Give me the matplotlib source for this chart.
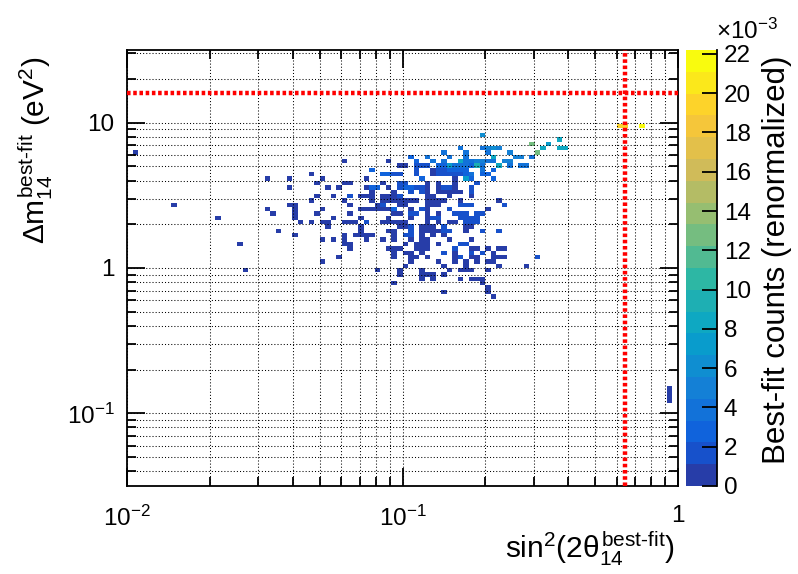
import numpy as np
import matplotlib
matplotlib.use('Agg')
import matplotlib.pyplot as plt
from matplotlib.colors import LinearSegmentedColormap, ListedColormap, BoundaryNorm
from matplotlib.ticker import NullFormatter

plt.rcParams['font.family'] = 'Liberation Sans'
plt.rcParams['mathtext.fontset'] = 'custom'
plt.rcParams['mathtext.rm'] = 'Liberation Sans'
plt.rcParams['mathtext.it'] = 'Liberation Sans'
plt.rcParams['mathtext.bf'] = 'Liberation Sans:bold'

#%% DATA
# 100 x 100 log bins, sin2 in [1e-2, 1], dm2 in [10^-1.5, 10^1.5]
n_bins = 100
sin2_range = (-2.0, 0.0)
dm2_range = (-1.5, 1.5)

# dm2 bin index of each filled row, sin2 bin indices and contents (x1e-3) in that row
dm2_rows = [82, 80, 79, 78, 77, 76, 75, 74, 73, 72, 71, 70, 69, 68, 67, 66, 65, 64, 63, 62,
            61, 60, 59, 58, 57, 56, 55, 54, 53, 52, 51, 50, 49, 48, 47, 46, 45, 44, 43,
            22, 21, 20, 19]
sin2_cols = [
    [89, 90, 93],
    [64],
    [78],
    [73, 76],
    [60, 64, 65, 66, 67, 75, 78, 79],
    [1, 57, 61, 65, 69, 74],
    [51, 54, 58, 61, 66, 70, 71, 73],
    [39, 47, 52, 55, 57, 60, 61, 62, 63, 64, 65, 66, 68, 69],
    [49, 50, 52, 53, 54, 56, 57, 58, 59, 60, 61, 62, 63, 64, 67, 69, 71, 72],
    [44, 52, 55, 56, 57, 58, 59, 60, 61, 64, 66],
    [33, 46, 47, 48, 49, 52, 55, 56, 57, 58, 59, 60, 61, 62, 64, 65],
    [25, 29, 35, 43, 53, 59, 61, 62, 66],
    [34, 39, 40, 46, 49, 50, 54, 56, 59, 63],
    [29, 36, 38, 43, 44, 45, 47, 49, 50, 51, 52, 53, 54, 56, 57, 58, 59, 62],
    [44, 48, 51, 53, 54, 56, 57, 58, 59, 60, 62],
    [34, 37, 40, 42, 43, 44, 46, 47, 48, 49, 54, 55, 58, 62],
    [33, 39, 44, 46, 47, 48, 49, 50, 51, 52, 54, 55, 56, 57, 60, 67],
    [8, 29, 30, 40, 45, 46, 49, 50, 54, 55, 56, 60, 61, 62, 68],
    [25, 30, 35, 42, 43, 44, 45, 46, 47, 48, 51, 53, 54, 58, 65],
    [26, 30, 34, 40, 48, 49, 51, 52, 54, 56, 59, 60, 61, 63, 64],
    [16, 30, 37, 42, 47, 51, 54, 55, 56, 60, 61, 62, 63],
    [31, 33, 35, 36, 39, 40, 41, 43, 46, 47, 48, 49, 50, 54, 56, 58, 59, 61, 62, 63],
    [36, 42, 49, 50, 51, 53, 54, 55, 57, 61, 62],
    [27, 42, 47, 48, 51, 53, 54, 55, 56, 57, 58, 61, 64, 67],
    [30, 39, 41, 42, 43, 44, 48, 50, 51, 53, 55, 57],
    [35, 37, 39, 43, 46, 48, 51, 53, 54, 58, 62],
    [20, 39, 40, 50, 52, 53, 54, 56, 60, 61],
    [40, 47, 48, 49, 52, 53, 54, 59, 62, 63, 65, 67, 68],
    [48, 50, 51, 53, 57, 59, 62, 64, 66],
    [38, 48, 51, 52, 54, 59, 60, 62, 63, 66, 67, 68, 74],
    [35, 51, 56, 59, 61, 63, 65, 66],
    [50, 57, 61, 67, 72],
    [21, 45, 49, 53, 58, 60, 61, 62, 65],
    [49, 53, 54, 55, 57],
    [53, 55, 60, 62, 63, 64],
    [48, 64],
    [65],
    [57, 65],
    [66],
    [98], [98], [98], [98],
]
contents = [
    [19.3, 19.3, 21.5],
    [6.0],
    [8.3],
    [12.7, 7.2],
    [3.8, 3.8, 4.9, 6.0, 4.9, 8.3, 8.3, 8.3],
    [0.5, 3.8, 3.8, 3.8, 4.9, 12.7],
    [2.7, 3.8, 3.8, 3.8, 8.3, 4.9, 4.9, 3.8],
    [0.5, 0.5, 2.7, 3.8, 3.8, 8.3, 3.8, 3.8, 4.9, 4.9, 3.8, 3.8, 4.9, 4.9],
    [0.5, 0.5, 1.6, 1.6, 1.6, 2.7, 2.7, 7.2, 3.8, 3.8, 3.8, 2.7, 9.4, 3.8, 8.3, 3.8, 3.8, 3.8],
    [2.7, 1.6, 0.5, 1.6, 1.6, 2.7, 2.7, 2.7, 2.7, 3.8, 2.7],
    [0.5, 2.7, 2.7, 1.6, 1.6, 1.6, 0.5, 1.6, 1.6, 1.6, 1.6, 1.6, 2.7, 3.8, 2.7, 2.7],
    [0.5, 0.5, 0.5, 0.5, 2.7, 0.5, 7.2, 2.7, 2.7],
    [0.5, 0.5, 0.5, 0.5, 1.6, 1.6, 0.5, 0.5, 0.5, 1.6],
    [0.5, 0.5, 0.5, 0.5, 2.7, 2.7, 0.5, 1.6, 2.7, 2.7, 1.6, 1.6, 0.5, 0.5, 1.6, 1.6, 0.5, 1.6],
    [0.5, 0.5, 1.6, 1.6, 0.5, 0.5, 0.5, 0.5, 0.5, 0.5, 1.6],
    [0.5, 0.5, 1.6, 0.5, 0.5, 0.5, 0.5, 0.5, 0.5, 1.6, 0.5, 0.5, 0.5, 0.5],
    [0.5, 0.5, 0.5, 0.5, 0.5, 0.5, 0.5, 0.5, 0.5, 0.5, 0.5, 0.5, 0.5, 0.5, 0.5, 0.5],
    [0.5, 0.5, 0.5, 0.5, 0.5, 1.6, 0.5, 0.5, 0.5, 0.5, 0.5, 1.6, 1.6, 1.6, 1.6],
    [0.5, 0.5, 0.5, 0.5, 0.5, 0.5, 0.5, 0.5, 0.5, 2.7, 0.5, 1.6, 0.5, 1.6, 0.5],
    [0.5, 0.5, 0.5, 0.5, 0.5, 0.5, 1.6, 1.6, 0.5, 0.5, 1.6, 1.6, 1.6, 1.6, 1.6],
    [0.5, 0.5, 0.5, 0.5, 0.5, 0.5, 0.5, 1.6, 1.6, 1.6, 1.6, 1.6, 1.6],
    [0.5, 0.5, 0.5, 0.5, 0.5, 0.5, 0.5, 1.6, 0.5, 0.5, 0.5, 0.5, 0.5, 0.5, 0.5, 0.5, 0.5, 1.6, 1.6, 1.6],
    [0.5, 0.5, 0.5, 0.5, 1.6, 0.5, 0.5, 0.5, 1.6, 0.5, 0.5],
    [0.5, 0.5, 0.5, 0.5, 1.6, 0.5, 0.5, 0.5, 0.5, 1.6, 1.6, 0.5, 1.6, 1.6],
    [0.5, 0.5, 0.5, 0.5, 0.5, 0.5, 0.5, 1.6, 1.6, 0.5, 0.5, 0.5],
    [0.5, 0.5, 0.5, 0.5, 0.5, 0.5, 0.5, 0.5, 0.5, 0.5, 0.5],
    [0.5, 0.5, 0.5, 0.5, 0.5, 0.5, 0.5, 0.5, 1.6, 1.6],
    [0.5, 0.5, 0.5, 0.5, 0.5, 0.5, 0.5, 1.6, 0.5, 0.5, 0.5, 0.5, 0.5],
    [0.5, 0.5, 0.5, 0.5, 1.6, 0.5, 1.6, 1.6, 0.5],
    [0.5, 0.5, 0.5, 0.5, 0.5, 0.5, 1.6, 0.5, 0.5, 0.5, 0.5, 0.5, 1.6],
    [0.5, 0.5, 0.5, 0.5, 0.5, 0.5, 0.5, 0.5],
    [0.5, 0.5, 0.5, 0.5, 0.5],
    [0.5, 0.5, 0.5, 0.5, 0.5, 0.5, 0.5, 0.5, 0.5],
    [0.5, 0.5, 0.5, 0.5, 0.5],
    [0.5, 0.5, 0.5, 0.5, 0.5, 0.5],
    [0.5, 0.5],
    [0.5],
    [0.5, 0.5],
    [0.5],
    [0.5], [0.5], [0.5], [0.5],
]

# reference lines
dm2_line = 16.0
sin2_line = 0.64

x_ticks = [1e-2, 1e-1, 1]
x_ticklabels = ['$10^{-2}$', '$10^{-1}$', '1']
y_ticks = [1e-1, 1, 10]
y_ticklabels = ['$10^{-1}$', '1', '10']
z_ticks = list(range(0, 23, 2))
z_max = 22.2e-3

#%% PALETTE (ROOT kBird, 20 contours)
stops = [0.0, 0.125, 0.25, 0.375, 0.5, 0.625, 0.75, 0.875, 1.0]
red = [0.2082, 0.0592, 0.0780, 0.0232, 0.1802, 0.5301, 0.8186, 0.9956, 0.9764]
green = [0.1664, 0.3599, 0.5041, 0.6419, 0.7178, 0.7492, 0.7328, 0.7862, 0.9832]
blue = [0.5293, 0.8684, 0.8385, 0.7914, 0.6425, 0.4662, 0.3499, 0.1968, 0.0539]
bird = LinearSegmentedColormap.from_list('bird', list(zip(stops, zip(red, green, blue))))
n_cont = 20
cmap = ListedColormap([bird((k + 0.99) / n_cont) for k in range(n_cont)])
levels = np.linspace(0, z_max, n_cont + 1)
norm = BoundaryNorm(levels, cmap.N)

#%% HISTOGRAM
x_edges = np.logspace(sin2_range[0], sin2_range[1], n_bins + 1)
y_edges = np.logspace(dm2_range[0], dm2_range[1], n_bins + 1)
H = np.zeros((n_bins, n_bins))
for iy, cols, vals in zip(dm2_rows, sin2_cols, contents):
    for ix, v in zip(cols, vals):
        H[iy, ix] = v * 1e-3
H = np.ma.masked_equal(H, 0)

#%% PLOT
W, Hpx = 798, 574
fig = plt.figure(figsize=(W / 100, Hpx / 100), dpi=100)
ax = fig.add_axes([127 / W, 88 / Hpx, 551 / W, 436 / Hpx])
mesh = ax.pcolormesh(x_edges, y_edges, H, cmap=cmap, norm=norm, zorder=1)
ax.set_xscale('log')
ax.set_yscale('log')
ax.set_xlim(x_edges[0], x_edges[-1])
ax.set_ylim(y_edges[0], y_edges[-1])

ax.axhline(dm2_line, color='red', lw=3.2, linestyle=(0, (0.8, 0.6)), zorder=3)
ax.axvline(sin2_line, color='red', lw=3.2, linestyle=(0, (0.8, 0.6)), zorder=3)

ax.set_axisbelow(False)
ax.grid(True, which='both', color='black', linestyle=(0, (1, 2)), linewidth=0.75)

ax.set_xticks(x_ticks, x_ticklabels)
ax.set_yticks(y_ticks, y_ticklabels)
ax.xaxis.set_minor_formatter(NullFormatter())
ax.yaxis.set_minor_formatter(NullFormatter())
ax.tick_params(which='both', direction='in', top=True, right=True, width=1.3)
ax.tick_params(which='major', length=13, labelsize=17.5)
ax.tick_params(which='minor', length=6.5)
ax.tick_params(axis='x', which='major', pad=14)
ax.tick_params(axis='y', which='major', pad=9)
for s in ax.spines.values():
    s.set_linewidth(1.3)

ax.set_xlabel(r'sin$^{2}$(2$\theta^{\text{best-fit}}_{14}$)', fontsize=21.5, loc='right')
ax.xaxis.set_label_coords(0.995, -0.1)
ax.set_ylabel(r'$\Delta m^{\text{best-fit}}_{14}$ (eV$^{2}$)', fontsize=21.5, loc='top')
ax.yaxis.set_label_coords(-0.131, 0.984)

# palette axis
cax = fig.add_axes([686 / W, 88 / Hpx, 31 / W, 436 / Hpx])
cb = fig.colorbar(mesh, cax=cax, ticks=[t * 1e-3 for t in z_ticks])
cb.outline.set_visible(False)
cax.spines['right'].set_visible(True)
cax.spines['right'].set_linewidth(1.3)
cax.set_yticklabels([str(t) for t in z_ticks])
cax.tick_params(direction='in', length=11, width=1.3, labelsize=17.5, pad=5)
cax.minorticks_off()
fig.text(716 / W, 1 - 39 / Hpx, r'$\times$10$^{-3}$', fontsize=17.5, ha='left', va='baseline')
fig.text(777 / W, 1 - 260 / Hpx, 'Best-fit counts (renormalized)', fontsize=22.5,
         rotation=90, ha='center', va='center')

fig.savefig('out.png', dpi=100)
